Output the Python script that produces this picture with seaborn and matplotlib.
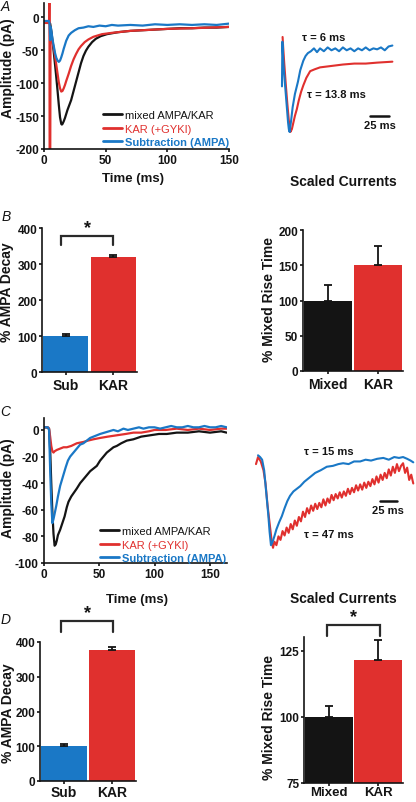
import numpy as np
import pandas as pd
import matplotlib
matplotlib.use("Agg")
import matplotlib.pyplot as plt
import seaborn as sns

# ---- colours
BLACK = "#141414"
RED = "#e0302e"
BLUE = "#1a78c6"

# ---- panel A traces (ms, pA)
a_black_t = [0, 4, 5, 6, 7, 8, 9, 10, 11, 12, 13, 14, 14.5, 15, 16, 17, 18, 19, 20, 22, 24, 26, 28,
             30, 32, 34, 36, 39, 42, 46, 51, 60, 70, 80, 90, 100, 110, 120, 130, 140, 150]
a_black = [-8, -8, -10, -22, -38, -55, -73, -92, -112, -133, -152, -162, -163, -162, -158, -153, -147,
           -141, -136, -126, -112, -98, -84, -70, -59, -51, -45, -38, -33, -29, -26, -23, -21, -20,
           -19, -18, -17, -17, -16, -16, -15]
a_red_t = [0, 4.2, 4.4, 4.6, 5.0, 5.3, 6, 7, 8, 9, 10, 11, 12, 13, 14, 15, 16, 17, 18, 20, 22, 24,
           26, 28, 30, 33, 36, 40, 47, 55, 70, 80, 100, 120, 150]
a_red = [-9, -9, 60, -260, -260, -25, -30, -38, -48, -60, -73, -86, -99, -108, -113, -112, -108,
         -103, -97, -86, -74, -64, -56, -49, -44, -38, -34, -30, -26, -24, -21, -20, -18, -17, -15]
a_blue_t = [0, 4, 4.5, 5, 5.5, 7, 8, 9, 10, 11, 12, 13, 14, 15, 16, 17, 18, 19, 20, 22, 25, 28, 32,
            36, 40, 45, 50, 55, 60, 70, 80, 90, 100, 110, 120, 130, 140, 150]
a_blue = [-6, -6, -10, -35, -15, -35, -45, -55, -62, -66, -68, -66, -61, -55, -48, -42, -36, -32,
          -28, -24, -20, -17, -16, -14, -15, -13, -14, -12, -13, -12, -13, -11, -12, -11, -12, -11,
          -12, -10]

# ---- panel A scaled currents (ms, normalised)
sa_blue_t = [0, 0.5, 2, 4, 6, 8, 9, 10, 12, 14, 17, 21, 24, 28, 31, 34, 38, 42, 46, 50, 55, 60, 65,
             70, 75, 80, 85, 90, 95, 100, 105, 110, 115, 120, 125, 130, 135, 140, 145]
sa_blue = [-0.52, -0.05, -0.3, -0.5, -0.7, -0.9, -0.97, -1.0, -0.88, -0.74, -0.6, -0.47, -0.35,
           -0.25, -0.2, -0.17, -0.15, -0.12, -0.16, -0.12, -0.15, -0.11, -0.14, -0.12, -0.15, -0.11,
           -0.14, -0.12, -0.15, -0.12, -0.14, -0.11, -0.14, -0.12, -0.13, -0.11, -0.14, -0.10, -0.09]
sa_red_t = [0.8, 1.5, 3, 5, 7, 9, 11, 13, 15, 17, 19.5, 22, 25, 28, 32, 37, 43, 50, 60, 70, 80, 95,
            110, 125, 145]
sa_red = [0.0, -0.1, -0.28, -0.5, -0.7, -0.88, -1.0, -0.97, -0.9, -0.83, -0.76, -0.67, -0.58,
          -0.51, -0.43, -0.36, -0.34, -0.32, -0.31, -0.30, -0.29, -0.28, -0.28, -0.27, -0.26]

# ---- panel C traces (ms, pA)
c_black_t = [0, 3, 5, 6, 7, 8, 9, 10, 11, 12, 13, 15, 17, 19, 21, 22.5, 25, 27.5, 30, 33, 36, 39,
             42, 45, 48, 51, 54, 57, 60, 63, 66, 70, 75, 81, 88, 96, 104, 111, 120, 130, 140, 150,
             160, 165]
c_black = [2, 2, 1, -15, -40, -62, -78, -87, -86, -83, -79, -75, -70, -65, -58, -54, -50, -47, -44,
           -40, -37, -34, -31, -29, -27, -23, -20, -17, -15, -13, -12, -10, -8, -7, -5, -4, -3, -3,
           -2, -2, -1, -2, -1, -2]
c_red_t = [0, 4, 5, 6, 7, 8, 9, 10, 12, 15, 18, 21, 25, 30, 36, 40, 45, 51, 58, 66, 74, 81, 88, 95,
           100, 110, 120, 130, 140, 150, 160, 165]
c_red = [2, 2, 1, -5, -12, -16, -17, -16, -15, -14, -13, -13, -12, -10, -9, -8, -7, -6, -5, -4, -3,
         -2, -2, -1, 0, 0, 1, 0, 1, 0, 1, 1]
c_blue_t = [0, 4, 5, 6, 7, 8, 9, 10, 11.5, 13, 15, 17.5, 20, 22, 24, 27, 30, 33, 36, 39, 42, 45, 48,
            51, 55, 59, 63, 67, 72, 76, 81, 86, 90, 95, 100, 105, 110, 115, 120, 125, 130, 135, 140,
            145, 150, 155, 160, 165]
c_blue = [2, 2, 0, -30, -55, -70, -67, -63, -57, -50, -42, -35, -28, -23, -20, -17, -14, -11, -10,
          -8, -6, -5, -4, -3, -2, -1, 0, -1, 1, 0, 1, 2, 1, 2, 2, 1, 2, 3, 2, 2, 3, 2, 2, 3, 2, 2, 3, 2]

# ---- panel C scaled currents (ms, normalised)
sc_blue_t = [0, 3, 6, 9, 12, 15, 17, 19, 21, 24, 27, 31, 35, 39, 43, 47, 52, 57, 62, 68, 76, 84, 92,
             101, 110, 118, 125, 133, 141, 150, 158, 166, 175, 184, 192, 200, 207, 213, 219, 224, 228]
sc_blue = [0.02, 0.0, -0.03, -0.15, -0.4, -0.65, -0.85, -1.0, -0.97, -0.9, -0.82, -0.74, -0.67,
           -0.58, -0.5, -0.44, -0.39, -0.36, -0.33, -0.28, -0.23, -0.18, -0.15, -0.11, -0.1, -0.08,
           -0.07, -0.08, -0.05, -0.05, -0.03, -0.04, -0.02, -0.01, -0.03, 0.0, -0.01, 0.0, -0.02,
           -0.04, -0.06]
sc_red_t = [-3, 0, 4, 8, 11, 14, 17, 20, 22, 24, 27, 30, 33, 36, 39, 42, 45, 48, 51, 54, 57, 60, 63,
            66, 69, 72, 75, 78, 81, 84, 87, 90, 93, 96, 99, 102, 105, 108, 111, 114, 117, 120, 123,
            126, 129, 132, 135, 138, 141, 144, 147, 150, 153, 156, 159, 162, 165, 168, 171, 174,
            177, 180, 183, 186, 189, 192, 195, 198, 201, 204, 207, 210, 213, 216, 219, 222, 225, 228]
sc_red = [-0.08, 0.0, -0.05, -0.15, -0.3, -0.55, -0.75, -0.95, -1.03, -0.96, -1.0, -0.9, -0.94,
          -0.84, -0.89, -0.80, -0.86, -0.76, -0.82, -0.72, -0.78, -0.68, -0.73, -0.62, -0.68, -0.58,
          -0.64, -0.55, -0.61, -0.53, -0.59, -0.52, -0.57, -0.48, -0.55, -0.47, -0.52, -0.43, -0.49,
          -0.42, -0.47, -0.40, -0.46, -0.39, -0.44, -0.36, -0.42, -0.35, -0.40, -0.32, -0.38, -0.31,
          -0.37, -0.29, -0.35, -0.28, -0.33, -0.25, -0.31, -0.22, -0.29, -0.20, -0.26, -0.18, -0.24,
          -0.14, -0.21, -0.11, -0.18, -0.08, -0.16, -0.10, -0.07, -0.18, -0.12, -0.26, -0.20, -0.30]

# ---- bar data
decay_cats = ["Sub", "KAR"]
decay_colors = [BLUE, RED]
rise_cats = ["Mixed", "KAR"]
rise_colors = [BLACK, RED]
b_decay = [100, 320]
b_decay_err = [5, 5]
b_rise = [100, 150]
b_rise_err = [22, 27]
d_decay = [100, 378]
d_decay_err = [7, 9]
d_rise = [100, 121.5]
d_rise_err = [4, 7.5]

legend_labels = ["mixed AMPA/KAR", "KAR (+GYKI)", "Subtraction (AMPA)"]

sns.set_theme(style="ticks")
plt.rcParams["font.family"] = ["Liberation Sans", "DejaVu Sans"]
plt.rcParams["axes.unicode_minus"] = False
plt.rcParams["axes.linewidth"] = 1.2
for k in ["xtick", "ytick"]:
    plt.rcParams[k + ".major.size"] = 2
    plt.rcParams[k + ".major.width"] = 1.2
    plt.rcParams[k + ".major.pad"] = 1.5
    plt.rcParams[k + ".labelsize"] = 8.5
    plt.rcParams[k + ".color"] = BLACK

W, H = 416, 803
fig = plt.figure(figsize=(W / 100, H / 100), dpi=100)


def px_ax(l, t, r, b):
    return fig.add_axes([l / W, 1 - b / H, (r - l) / W, (b - t) / H])


def ftext(x, y, s, **kw):
    kw.setdefault("ha", "center")
    kw.setdefault("va", "center")
    kw.setdefault("fontweight", "bold")
    fig.text(x / W, 1 - y / H, s, color=BLACK, **kw)


def style(ax):
    sns.despine(ax=ax)
    for sp in ["left", "bottom"]:
        ax.spines[sp].set_color(BLACK)
    for lab in ax.get_xticklabels() + ax.get_yticklabels():
        lab.set_fontweight("bold")


def traces(ax, series, xlim, ylim, xticks, yticks, leg_anchor):
    for t, v, c, lab in series:
        sns.lineplot(x=t, y=v, ax=ax, color=c, lw=1.6, label=lab, sort=False)
    ax.set_xlim(*xlim)
    ax.set_ylim(*ylim)
    ax.set_xticks(xticks)
    ax.set_yticks(yticks)
    ax.set_xlabel("")
    ax.set_ylabel("")
    style(ax)
    leg = ax.legend(frameon=False, loc="lower left", fontsize=8, handlelength=1.75,
                    handletextpad=0.25, labelspacing=0.3, borderaxespad=0, borderpad=0,
                    bbox_to_anchor=(leg_anchor[0] / W, 1 - leg_anchor[1] / H),
                    bbox_transform=fig.transFigure)
    for txt, (_, _, c, _) in zip(leg.get_texts(), series):
        txt.set_color(c)
    leg.get_texts()[2].set_fontweight("bold")
    for h in leg.get_lines():
        h.set_linewidth(2)


def scaled(ax, series, xlim, ylim, bar, tau):
    for t, v, c in series:
        sns.lineplot(x=t, y=v, ax=ax, color=c, lw=1.5, sort=False)
    ax.set_xlim(*xlim)
    ax.set_ylim(*ylim)
    ax.axis("off")
    x0, x1, yb = bar
    ax.plot([x0, x1], [yb, yb], color=BLACK, lw=1.8)
    ax.text((x0 + x1) / 2, yb - 0.04, "25 ms", ha="center", va="top", fontsize=8,
            fontweight="bold", color=BLACK)
    for tx, ty, s in tau:
        ax.text(tx, ty, s, ha="left", va="center", fontsize=8, fontweight="bold", color=BLACK)


def bars(ax, cats, vals, errs, colors, ylim, yticks, width, sig=None, xpad=2):
    sns.barplot(x=cats, y=vals, hue=cats, palette=colors, legend=False, ax=ax,
                width=width, saturation=1, edgecolor="none")
    ax.errorbar(x=range(len(cats)), y=vals, yerr=[[0] * len(errs), errs], fmt="none",
                ecolor=BLACK, elinewidth=1.3, capsize=3, capthick=1.3)
    ax.set_xlim(-0.5, 1.5)
    ax.set_ylim(*ylim)
    ax.set_yticks(yticks)
    ax.set_xlabel("")
    ax.set_ylabel("")
    style(ax)
    ax.tick_params(axis="x", labelsize=10, pad=xpad)
    if sig is not None:
        xa, xb, ylo, yhi, ys = sig
        ax.plot([xa, xa, xb, xb], [ylo, yhi, yhi, ylo], color="#2a2a2a", lw=1.6,
                clip_on=False, solid_joinstyle="miter")
        ax.text((xa + xb) / 2, ys, "*", ha="center", va="center", fontsize=13,
                fontweight="bold", color=BLACK, clip_on=False)


# ---- A
axA = px_ax(44, 3.5, 229, 150)
traces(axA, [(a_black_t, a_black, BLACK, legend_labels[0]),
             (a_red_t, a_red, RED, legend_labels[1]),
             (a_blue_t, a_blue, BLUE, legend_labels[2])],
       (0, 150), (-200, 22), [0, 50, 100, 150], [0, -50, -100, -150, -200], (103, 148))
ftext(8, 68, "Amplitude (pA)", rotation=90, fontsize=10)
ftext(133, 179, "Time (ms)", fontsize=9.5)
ftext(5, 7, "A", fontstyle="italic", fontweight="normal", fontsize=10)

axAs = px_ax(280, 30, 400, 140)
scaled(axAs, [(sa_red_t, sa_red, RED), (sa_blue_t, sa_blue, BLUE)],
       (-2.6, 155), (-1.074, 0.084), (116, 141, -0.83),
       [(26, 0.0, "\u03c4 = 6 ms"), (33, -0.6, "\u03c4 = 13.8 ms")])
ftext(343, 182, "Scaled Currents", fontsize=10)

# ---- B
axB1 = px_ax(42, 229, 137, 373)
bars(axB1, decay_cats, b_decay, b_decay_err, decay_colors, (0, 400), [0, 100, 200, 300, 400],
     0.95, sig=(-0.1, 1.0, 353, 378, 402))
ftext(7, 292, "% AMPA Decay", rotation=90, fontsize=10)
ftext(6, 217, "B", fontstyle="italic", fontweight="normal", fontsize=10)

axB2 = px_ax(303, 231, 403, 372)
bars(axB2, rise_cats, b_rise, b_rise_err, rise_colors, (0, 200), [0, 50, 100, 150, 200], 0.97)
ftext(269, 300, "% Mixed Rise Time", rotation=90, fontsize=10)

# ---- C
axC = px_ax(43.5, 419, 226.7, 564)
traces(axC, [(c_black_t, c_black, BLACK, legend_labels[0]),
             (c_red_t, c_red, RED, legend_labels[1]),
             (c_blue_t, c_blue, BLUE, legend_labels[2])],
       (0, 165), (-100, 9), [0, 50, 100, 150], [0, -20, -40, -60, -80, -100], (100, 564))
ftext(8, 488, "Amplitude (pA)", rotation=90, fontsize=10)
ftext(137, 600, "Time (ms)", fontsize=9.5)
ftext(5, 412, "C", fontstyle="italic", fontweight="normal", fontsize=10)

axCs = px_ax(250, 445, 416, 555)
scaled(axCs, [(sc_red_t, sc_red, RED), (sc_blue_t, sc_blue, BLUE)],
       (-11.8, 232), (-1.10, 0.148), (179, 204, -0.5),
       [(68, 0.07, "\u03c4 = 15 ms"), (68, -0.875, "\u03c4 = 47 ms")])
ftext(343, 599, "Scaled Currents", fontsize=10)

# ---- D
axD1 = px_ax(40, 643, 136, 782)
bars(axD1, decay_cats, d_decay, d_decay_err, decay_colors, (0, 400), [0, 100, 200, 300, 400],
     0.95, sig=(-0.06, 1.02, 429, 460, 484), xpad=1)
ftext(8, 713, "% AMPA Decay", rotation=90, fontsize=10)
ftext(6, 620, "D", fontstyle="italic", fontweight="normal", fontsize=10)

axD2 = px_ax(304, 638, 403, 784)
bars(axD2, rise_cats, d_rise, d_rise_err, rise_colors, (75, 130.2), [75, 100, 125], 0.97,
     sig=(-0.035, 1.035, 130.6, 134.7, 137.8), xpad=0.5)
ftext(269, 718, "% Mixed Rise Time", rotation=90, fontsize=10)
for lab in axD2.get_xticklabels():
    lab.set_fontsize(9.5)

fig.savefig("out.png", dpi=100)
